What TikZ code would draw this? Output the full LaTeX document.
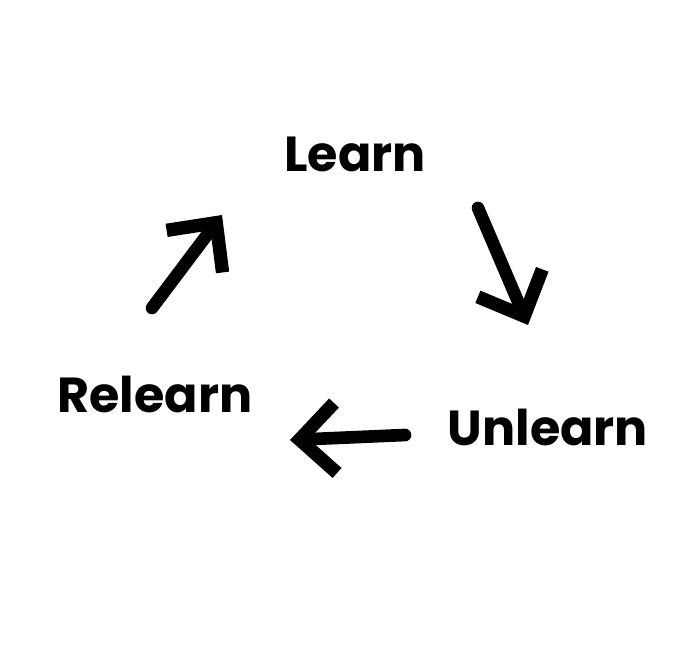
\documentclass[tikz,border=0pt]{standalone}
\usepackage{fontspec}
\setmainfont{Poppins}
\usetikzlibrary{arrows.meta}
\tikzset{
	word/.style={font=\bfseries\fontsize{14}{17}\selectfont, anchor=base, inner sep=0pt},
	cyclearrow/.style={line width=3.6pt, line cap=round, line join=round,
		-{Straight Barb[length=3.6mm, width=7mm, line width=3.8pt]}}
}
\newcommand{\cyclestep}[2]{
	\draw[cyclearrow] (#1) -- (#2);
}

\begin{document}
\begin{tikzpicture}
			\useasboundingbox (0,0) rectangle (6.96,6.61);
			% the three words
			\node[word] (learn) at (3.55, 4.89) {Learn};
			\node[word] (unlearn) at (5.48, 2.16) {Unlearn};
			\node[word] (relearn) at (1.55, 2.48) {Relearn};
			% arrow ends
			\coordinate (learnout) at (4.78, 4.53);
			\coordinate (unlearnin) at (5.28, 3.36);
			\coordinate (unlearnout) at (4.05, 2.26);
			\coordinate (relearnin) at (2.90, 2.21);
			\coordinate (relearnout) at (1.52, 3.53);
			\coordinate (learnin) at (2.22, 4.46);
			\cyclestep{learnout}{unlearnin}
			\cyclestep{unlearnout}{relearnin}
			\cyclestep{relearnout}{learnin}
\end{tikzpicture}
\end{document}
